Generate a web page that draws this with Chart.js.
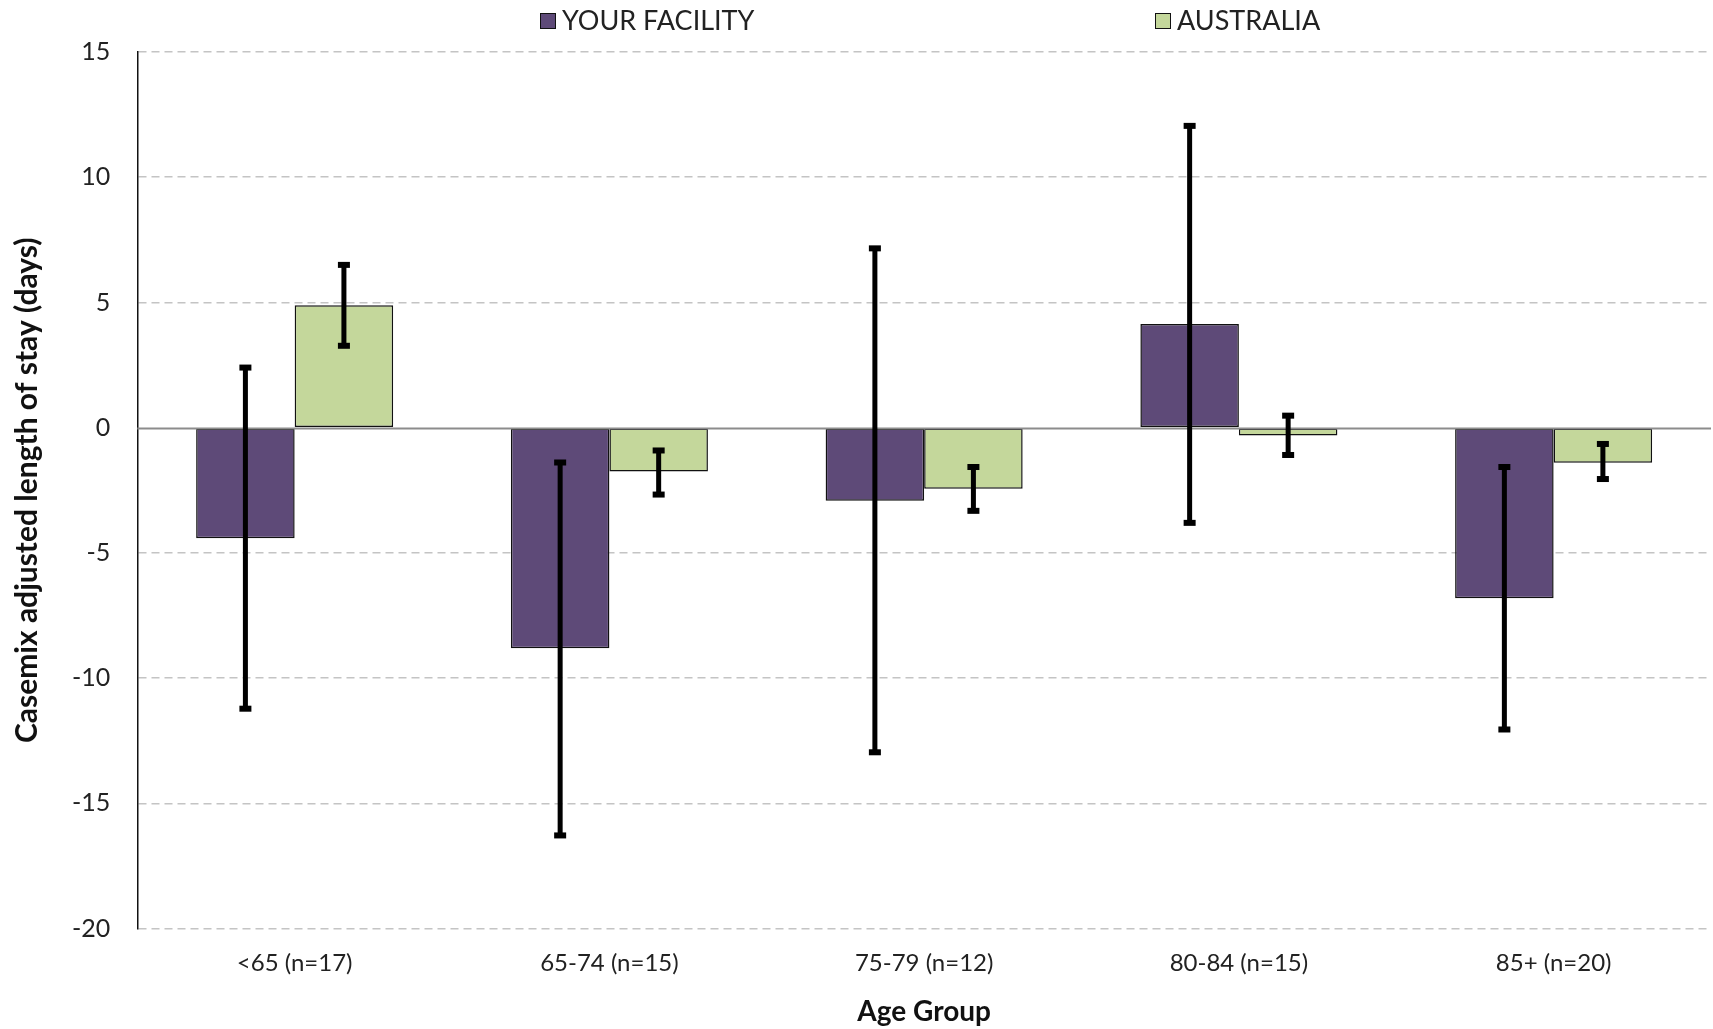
<!DOCTYPE html>
<html>
<head>
<meta charset="utf-8">
<script src="https://cdn.jsdelivr.net/npm/chart.js@4"></script>
<style>
  html, body { margin: 0; padding: 0; background: #fff; }
  #wrap { position: relative; width: 1713px; height: 1029px; }
  #legend { position: absolute; top: 5px; left: 0; width: 1713px; height: 30px; font-family: Lato, 'Noto Sans', sans-serif; font-size: 27px; color: #222; }
  #legend .item { position: absolute; top: 0; line-height: 30px; white-space: nowrap; }
  #legend .box { display: inline-block; width: 14px; height: 14px; border: 1.5px solid #111; margin-right: 6px; vertical-align: 1px; }
</style>
</head>
<body>
<div id="wrap">
  <canvas id="chart" width="1713" height="1029"></canvas>
  <div id="legend"></div>
</div>
<script>
const categories = ["<65 (n=17)", "65-74 (n=15)", "75-79 (n=12)", "80-84 (n=15)", "85+ (n=20)"];
const facilityValues = [-4.41, -8.81, -2.92, 4.14, -6.81];
const facilityLow = [-11.26, -16.32, -13.0, -3.84, -12.09];
const facilityHigh = [2.44, -1.35, 7.2, 12.09, -1.53];
const australiaValues = [4.89, -1.75, -2.44, -0.31, -1.40];
const australiaLow = [3.23, -2.71, -3.36, -1.13, -2.09];
const australiaHigh = [6.54, -0.87, -1.53, 0.52, -0.61];
const yTicks = [15, 10, 5, 0, -5, -10, -15, -20];
const legendLeft = [540, 1155];

const fontFamily = "Lato, 'Noto Sans', sans-serif";

// zero line drawn over the bars, then the error bars on top
const overlay = {
    id: "overlay",
    afterDatasetsDraw(chart) {
        const ctx = chart.ctx;
        const y = chart.scales.y;
        const area = chart.chartArea;
        const y0 = Math.round(y.getPixelForValue(0)) + 0.5;

        ctx.save();
        ctx.strokeStyle = "#8c8c8c";
        ctx.lineWidth = 2;
        ctx.beginPath();
        ctx.moveTo(area.left, y0);
        ctx.lineTo(area.right, y0);
        ctx.stroke();

        const ranges = [[facilityLow, facilityHigh], [australiaLow, australiaHigh]];
        chart.data.datasets.forEach(function (ds, di) {
            const meta = chart.getDatasetMeta(di);
            meta.data.forEach(function (bar, i) {
                const top = y.getPixelForValue(ranges[di][1][i]);
                const bottom = y.getPixelForValue(ranges[di][0][i]);
                ctx.fillStyle = "#000";
                ctx.fillRect(bar.x - 2.5, top, 5, bottom - top);
                ctx.fillRect(bar.x - 6, top - 2, 12, 6);
                ctx.fillRect(bar.x - 6, bottom - 4, 12, 6);
            });
        });
        ctx.restore();
    }
};

const chart = new Chart(document.getElementById("chart"), {
    type: "bar",
    data: {
        labels: categories,
        datasets: [{
            label: "YOUR FACILITY",
            data: facilityValues,
            backgroundColor: "#5e4a78",
            borderColor: "#111",
            borderWidth: 1.5,
            borderSkipped: false
        }, {
            label: "AUSTRALIA",
            data: australiaValues,
            backgroundColor: "#c4d79b",
            borderColor: "#111",
            borderWidth: 1.5,
            borderSkipped: false
        }]
    },
    options: {
        responsive: false,
        animation: false,
        layout: { padding: { left: 9, right: 2, top: 52, bottom: 0 } },
        datasets: {
            bar: { categoryPercentage: 0.626, barPercentage: 1 }
        },
        plugins: {
            legend: { display: false },
            tooltip: { enabled: false }
        },
        scales: {
            x: {
                grid: { display: false },
                border: { display: false },
                ticks: {
                    color: "#222",
                    font: { family: fontFamily, size: 24 },
                    padding: 12
                },
                title: {
                    display: true,
                    text: "Age Group",
                    color: "#111",
                    font: { family: fontFamily, size: 28, weight: "bold" },
                    padding: { top: 6, bottom: 0 }
                }
            },
            y: {
                min: -20,
                max: 15,
                afterBuildTicks(axis) {
                    axis.ticks = yTicks.map(v => ({ value: v }));
                },
                grid: {
                    drawTicks: false,
                    lineWidth: 1.5,
                    color: c => (c.tick && c.tick.value === 0) ? "rgba(0,0,0,0)" : "#c4c4c4"
                },
                border: {
                    display: true,
                    color: "#111",
                    width: 1.5,
                    dash: [8, 5]
                },
                ticks: {
                    color: "#222",
                    font: { family: fontFamily, size: 25 },
                    padding: 27
                },
                title: {
                    display: true,
                    text: "Casemix adjusted length of stay (days)",
                    color: "#111",
                    font: { family: fontFamily, size: 30, weight: "bold" },
                    padding: { top: 0, bottom: 0 }
                }
            }
        }
    },
    plugins: [overlay]
});

// legend built from the datasets, placed like the original
const legend = document.getElementById("legend");
chart.data.datasets.forEach(function (ds, i) {
    const item = document.createElement("div");
    item.className = "item";
    item.style.left = legendLeft[i] + "px";
    item.innerHTML = '<span class="box" style="background:' + ds.backgroundColor + '"></span>' + ds.label;
    legend.appendChild(item);
});
</script>
</body>
</html>
